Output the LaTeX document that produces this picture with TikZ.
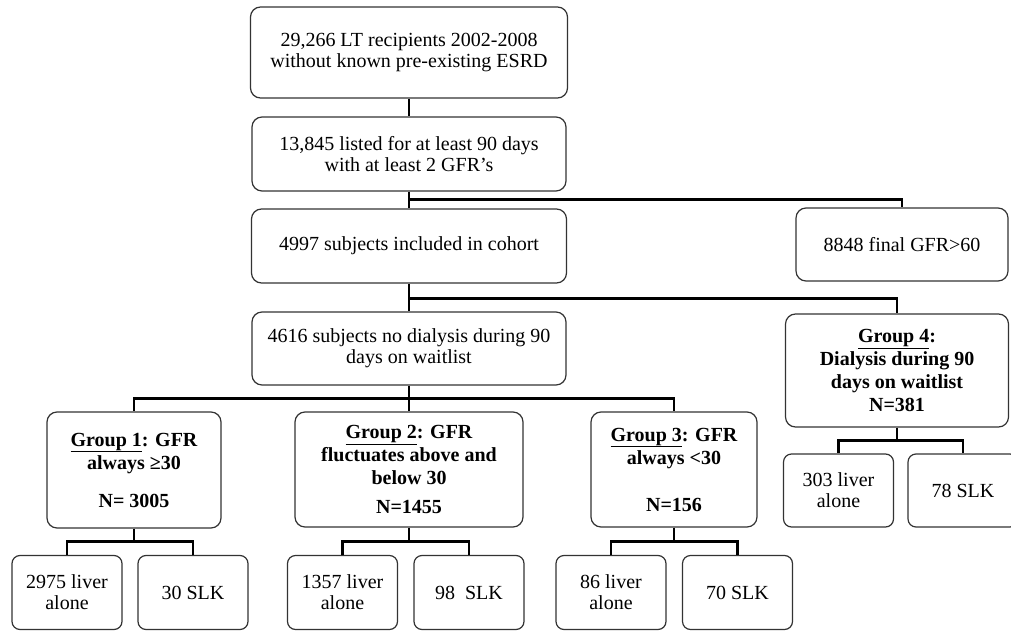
\documentclass[tikz,border=0pt]{standalone}
\usepackage{fontspec}
\setmainfont{Liberation Serif}
\usetikzlibrary{calc}
\begin{document}
\begin{tikzpicture}[x=1pt,y=-1pt,
				every node/.style={draw=black!80,line width=1.2pt,rounded corners=10pt,align=center,inner sep=2pt,
					font=\fontsize{20}{21}\selectfont},
				grp/.style={font=\fontsize{20}{23}\selectfont\bfseries},
				leaf/.style={minimum width=110pt,minimum height=74pt,rounded corners=8pt},
				link/.style={line width=2.8pt,to path={|- ($(\tikztostart)!0.5!(\tikztotarget)$) -| (\tikztotarget)}}]
\useasboundingbox (0,0) rectangle (1011,631);
\node[minimum width=317pt,minimum height=91pt] (top) at (409,52.5) {29,266 LT recipients 2002-2008\\without known pre-existing ESRD};
\node[minimum width=314pt,minimum height=74pt] (listed) at (409,154) {13,845 listed for at least 90 days\\with at least 2 GFR’s};
\node[minimum width=315pt,minimum height=74pt] (cohort) at (409,246) {4997 subjects included in cohort};
\node[minimum width=212pt,minimum height=73pt] (final) at (902,244.5) {8848 final GFR>60};
\node[minimum width=314pt,minimum height=73pt] (nodial) at (409,348.5) {4616 subjects no dialysis during 90\\days on waitlist};
\node[grp,minimum width=223pt,minimum height=113pt] (grp4) at (897,370.5) {\underline{Group 4}:\\Dialysis during 90\\days on waitlist\\N=381};
\node[grp,minimum width=174pt,minimum height=116pt] (grp1) at (134,470) {\underline{Group 1}: GFR\\always ≥30\\[15pt]N= 3005};
\node[grp,minimum width=228pt,minimum height=115pt] (grp2) at (409,469.5) {\underline{Group 2}: GFR\\fluctuates above and\\below 30\\[6pt]N=1455};
\node[grp,minimum width=166pt,minimum height=115pt] (grp3) at (674,469.5) {\underline{Group 3}: GFR\\always <30\\[24pt]N=156};
\node[leaf] (liver1) at (67,592.5) {2975 liver\\alone};
\node[leaf] (slk1) at (193,592.5) {30 SLK};
\node[leaf] (liver2) at (342.5,592.5) {1357 liver\\alone};
\node[leaf] (slk2) at (469,592.5) {98~ SLK};
\node[leaf] (liver3) at (611,592.5) {86 liver\\alone};
\node[leaf] (slk3) at (737.5,592.5) {70 SLK};
\node[leaf,minimum height=73pt] (liver4) at (838.5,490.5) {303 liver\\alone};
\node[leaf,minimum height=73pt] (slk4) at (963,490.5) {78 SLK};
\draw[link] (top.south) to (listed.north);
\draw[link] (listed.south) to (cohort.north) (listed.south) to (final.north);
\draw[link] (cohort.south) to (nodial.north) (cohort.south) to (grp4.north);
\draw[link] (nodial.south) to (grp1.north) (nodial.south) to (grp2.north) (nodial.south) to (grp3.north);
\draw[link] (grp1.south) to (liver1.north) (grp1.south) to (slk1.north);
\draw[link] (grp2.south) to (liver2.north) (grp2.south) to (slk2.north);
\draw[link] (grp3.south) to (liver3.north) (grp3.south) to (slk3.north);
\draw[link] (grp4.south) to (liver4.north) (grp4.south) to (slk4.north);
\end{tikzpicture}
\end{document}
